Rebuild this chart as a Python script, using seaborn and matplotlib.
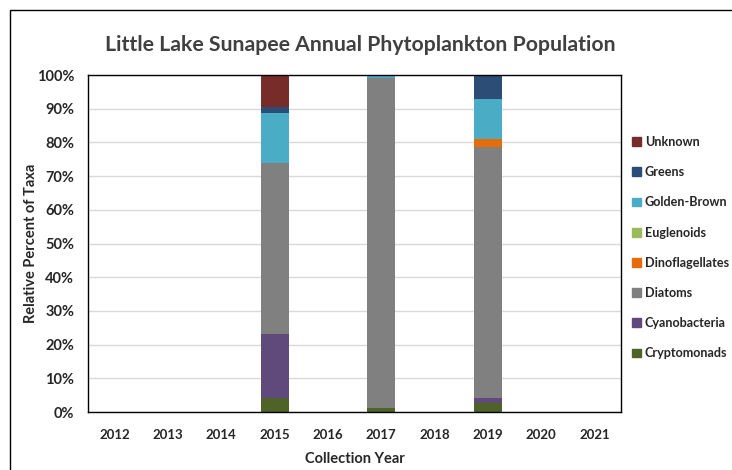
import matplotlib
matplotlib.use("Agg")
import matplotlib.pyplot as plt
import matplotlib.patches as mpatches
import numpy as np
import pandas as pd
import seaborn as sns

years = ["2012", "2013", "2014", "2015", "2016", "2017", "2018", "2019", "2020", "2021"]
taxa = ["Cryptomonads", "Cyanobacteria", "Diatoms", "Dinoflagellates",
        "Euglenoids", "Golden-Brown", "Greens", "Unknown"]
cryptomonads    = [0, 0, 0, 4.1, 0, 1.1, 0, 2.6, 0, 0]
cyanobacteria   = [0, 0, 0, 19.0, 0, 0, 0, 1.5, 0, 0]
diatoms         = [0, 0, 0, 50.7, 0, 97.9, 0, 74.6, 0, 0]
dinoflagellates = [0, 0, 0, 0, 0, 0, 0, 2.3, 0, 0]
euglenoids      = [0, 0, 0, 0, 0, 0, 0, 0, 0, 0]
golden_brown    = [0, 0, 0, 14.8, 0, 1.0, 0, 11.8, 0, 0]
greens          = [0, 0, 0, 2.0, 0, 0, 0, 7.2, 0, 0]
unknown         = [0, 0, 0, 9.4, 0, 0, 0, 0, 0, 0]
colors = ["#4F6228", "#604A7B", "#808080", "#E46C0A",
          "#9BBB59", "#4BACC6", "#2C4D75", "#772C2A"]

series = [cryptomonads, cyanobacteria, diatoms, dinoflagellates,
          euglenoids, golden_brown, greens, unknown]

sns.set_theme(style="white")
plt.rcParams["font.family"] = ["Lato", "DejaVu Sans"]

fig = plt.figure(figsize=(7.32, 4.70), dpi=100)
ax = fig.add_axes([88/732, 1 - 412/470, (621-88)/732, (412-75)/470])

# cumulative stacks drawn from top down so lower segments overlay
cum = np.cumsum(np.array(series, dtype=float), axis=0)
for i in range(len(taxa) - 1, -1, -1):
    df = pd.DataFrame({"year": years, "value": cum[i] / 100.0})
    sns.barplot(data=df, x="year", y="value", order=years, color=colors[i],
                saturation=1, width=0.525, ax=ax, linewidth=0, errorbar=None)

ax.set_ylim(0, 1)
ax.set_xlim(-0.5, 9.5)
ax.set_yticks(np.arange(0, 1.01, 0.1))
ax.set_yticklabels([f"{int(round(v*100))}%" for v in np.arange(0, 1.01, 0.1)],
                   fontsize=10.5, fontweight="bold")
ax.set_xticks(range(10))
ax.set_xticklabels(years, fontsize=9.5, fontweight="bold", color="#262626")
ax.tick_params(axis="both", length=0)
ax.tick_params(axis="x", pad=12)
ax.tick_params(axis="y", pad=10)
ax.yaxis.grid(True, color="#D9D9D9", linewidth=1)
ax.set_axisbelow(True)
for s in ax.spines.values():
    s.set_visible(True)
    s.set_color("black")
    s.set_linewidth(1)

ax.set_xlabel("Collection Year", fontsize=10.5, fontweight="bold", labelpad=8)
ax.set_ylabel("Relative Percent of Taxa", fontsize=10.5, fontweight="bold")
ax.yaxis.set_label_coords((38 - 88) / 533, 0.5)

fig.text(360/732, 1 - 45/470, "Little Lake Sunapee Annual Phytoplankton Population",
         ha="center", va="center", fontsize=15.3, fontweight="bold", color="#404040")

handles = [mpatches.Patch(color=colors[i], label=taxa[i]) for i in range(len(taxa) - 1, -1, -1)]
leg = fig.legend(handles=handles, loc="upper left", bbox_to_anchor=(627/732, 1 - 131/470),
                 frameon=False, fontsize=9.1, handlelength=0.7, handleheight=0.7,
                 handletextpad=0.3, labelspacing=1.44, borderaxespad=0)
for t in leg.get_texts():
    t.set_fontweight("bold")
    t.set_color("#262626")

# chart area border (left and top visible)
fig.patches.append(mpatches.Rectangle((10/732, -0.1), 1.2, 1 - 9.5/470 + 0.1,
                                      transform=fig.transFigure, fill=False,
                                      edgecolor="black", linewidth=1))

fig.savefig("out.png", dpi=100)
